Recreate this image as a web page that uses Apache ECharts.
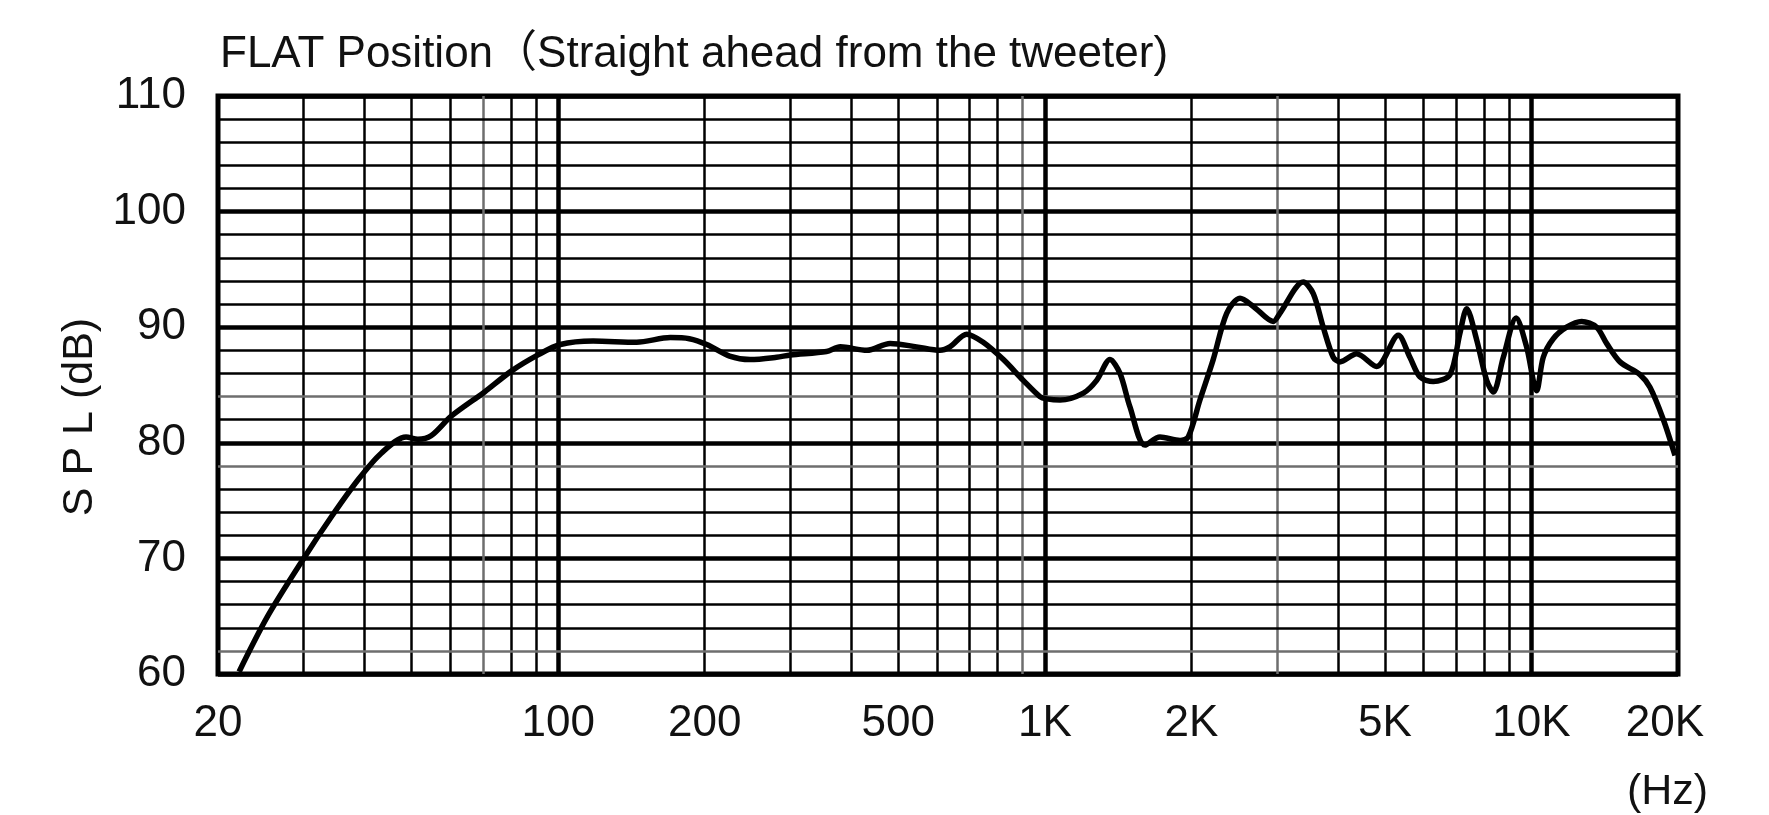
<!DOCTYPE html>
<html><head><meta charset="utf-8">
<script src="https://cdn.jsdelivr.net/npm/echarts@6/dist/echarts.min.js"></script>
<style>html,body{margin:0;padding:0;background:#fff}#c{width:1769px;height:815px}</style>
</head><body><div id="c"></div>
<script>
// ---- data ----
const titleText = 'FLAT Position（Straight ahead from the tweeter)';
const xUnit = '(Hz)';
const yName = 'S P L (dB)';
const freqs = [22.1, 25.3, 30, 34.2, 38.8, 43.3, 48.7, 51.5, 54.8, 60.3, 70.6, 80.1, 90.9, 101, 118, 145, 170, 186, 202, 225, 248, 281, 300, 356, 380, 431, 481, 545, 609, 638, 691, 747, 822, 903, 977, 1009, 1075, 1200, 1278, 1361, 1427, 1496, 1606, 1724, 1896, 1971, 2083, 2218, 2364, 2518, 2682, 2947, 3041, 3396, 3561, 3733, 3914, 4039, 4372, 4805, 5325, 5625, 5899, 6283, 6800, 7129, 7360, 7716, 8088, 8348, 8752, 9300, 9770, 10246, 10573, 11085, 11806, 12677, 13609, 14266, 15200, 16706, 17516, 18664, 19720];
const spl = [60.2, 65.0, 70.0, 73.6, 76.8, 79.1, 80.5, 80.3, 80.6, 82.3, 84.4, 86.2, 87.6, 88.5, 88.8, 88.7, 89.1, 89.0, 88.5, 87.5, 87.2, 87.4, 87.6, 87.9, 88.3, 88.0, 88.6, 88.3, 88.0, 88.3, 89.4, 88.7, 87.2, 85.4, 84.0, 83.8, 83.7, 84.3, 85.4, 87.2, 86.0, 83.1, 79.8, 80.5, 80.2, 80.5, 83.7, 87.2, 91.2, 92.5, 91.8, 90.5, 91.2, 93.9, 92.9, 90.0, 87.4, 87.0, 87.7, 86.6, 89.3, 87.4, 85.7, 85.3, 85.9, 89.5, 91.6, 88.9, 85.4, 84.4, 87.4, 90.8, 88.3, 84.5, 87.4, 89.0, 90.0, 90.5, 90.0, 88.6, 87.0, 85.9, 84.8, 82.0, 78.9];
const tickFreqs = [20, 100, 200, 500, 1000, 2000, 5000, 10000, 20000];
const tickLabels = ['20', '100', '200', '500', '1K', '2K', '5K', '10K', '20K'];
const gridFreqs = [30, 40, 50, 60, 70, 80, 90, 100, 200, 300, 400, 500, 600, 700, 800, 900, 1000, 2000, 3000, 4000, 5000, 6000, 7000, 8000, 9000, 10000];
const minorDb = [62, 64, 66, 68, 72, 74, 76, 78, 82, 84, 86, 88, 92, 94, 96, 98, 102, 104, 106, 108];

// ---- styles ----
const FONT = "'Liberation Sans','Noto Sans CJK JP',sans-serif";
const boldFreqs = new Set([100, 1000, 10000]);
const lightFreqs = new Set([70, 900, 3000]);
const lightDb = new Set([62, 78, 84]);

const vLines = gridFreqs.map(f => ({
  xAxis: f,
  lineStyle: {
    type: 'solid',
    color: lightFreqs.has(f) ? '#6e6e6e' : '#000',
    width: boldFreqs.has(f) ? 4.5 : 2.5
  }
}));
const hLines = minorDb.map(v => ({
  yAxis: v,
  lineStyle: { type: 'solid', color: lightDb.has(v) ? '#6e6e6e' : '#000', width: 2.5 }
}));
const labelLines = tickFreqs.map((f, i) => ({
  xAxis: f,
  label: { formatter: tickLabels[i], offset: i === tickFreqs.length - 1 ? [-13, 0] : [0, 0] }
}));

const chart = echarts.init(document.getElementById('c'), null, { renderer: 'canvas' });
chart.setOption({
  animation: false,
  backgroundColor: '#fff',
  title: [
    { text: titleText, left: 215, top: 28,
      textStyle: { fontSize: 44, fontWeight: 'normal', color: '#111', fontFamily: FONT } },
    { text: xUnit, left: 1622, top: 766,
      textStyle: { fontSize: 43, fontWeight: 'normal', color: '#111', fontFamily: FONT } }
  ],
  grid: { left: 218, right: 91, top: 96, bottom: 141, show: true, borderColor: '#000', borderWidth: 5, backgroundColor: 'transparent' },
  xAxis: {
    type: 'log', logBase: 10, min: 20, max: 20000,
    axisLine: { show: false }, axisTick: { show: false }, axisLabel: { show: false },
    splitLine: { show: false }
  },
  yAxis: {
    type: 'value', min: 60, max: 110, interval: 10,
    axisLine: { show: false }, axisTick: { show: false },
    axisLabel: { fontSize: 44, color: '#111', margin: 32, fontFamily: FONT },
    splitLine: { show: true, lineStyle: { color: '#000', width: 4.5 } },
    name: yName, nameLocation: 'middle', nameGap: 106, nameRotate: 90,
    nameTextStyle: { fontSize: 43, color: '#111', fontFamily: FONT, padding: [0, 64, 0, 0] }
  },
  series: [
    { type: 'line', data: [], z: 1, silent: true,
      markLine: { silent: true, symbol: ['none', 'none'], animation: false,
        label: { show: false }, data: vLines.concat(hLines) } },
    { type: 'line', data: [], z: 1, silent: true,
      markLine: { silent: true, symbol: ['none', 'none'], animation: false,
        lineStyle: { width: 1, color: 'rgba(0,0,0,0)', type: 'solid' },
        label: { show: true, position: 'start', distance: 28, fontSize: 44, color: '#111', fontFamily: FONT },
        data: labelLines } },
    { type: 'line', z: 10, data: freqs.map((f, i) => [f, spl[i]]),
      smooth: 0.3, showSymbol: false, symbol: 'none',
      lineStyle: { color: '#000', width: 5.5 } }
  ]
});
</script></body></html>
